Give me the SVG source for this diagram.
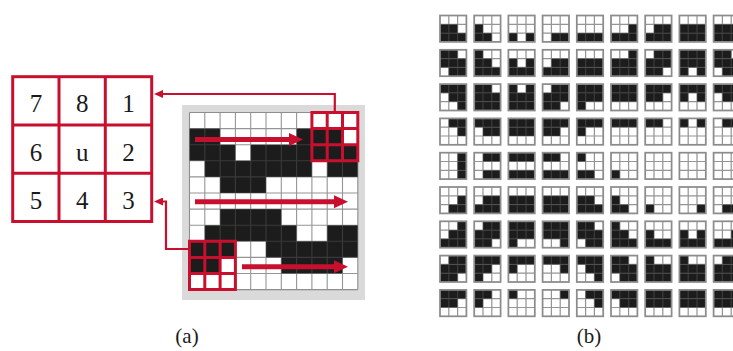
<svg xmlns="http://www.w3.org/2000/svg" width="733" height="351" viewBox="0 0 733 351">
<style>
.red{fill:none;stroke:#c8102e}
.blk{fill:#1c1c1c}
.gl{fill:none;stroke:#4f4f4f;stroke-opacity:0.6;stroke-width:1.1}
.lbl{font-family:"Liberation Serif","Times New Roman",serif;fill:#1a1a1a}
.num{font-size:25px;text-anchor:middle}
.cap{font-size:21px;text-anchor:middle}
</style>
<defs>
<marker id="ah" markerUnits="userSpaceOnUse" markerWidth="9" markerHeight="8" viewBox="0 0 9 8" refX="5" refY="4" orient="auto"><path d="M0 0L9 4L0 8z" fill="#c8102e"/></marker>
<marker id="bh" markerUnits="userSpaceOnUse" markerWidth="14" markerHeight="13" viewBox="0 0 14 13" refX="8" refY="6.5" orient="auto"><path d="M0 0L14 6.5L0 13z" fill="#c8102e"/></marker>
<g id="gr"><path d="M1 0v3M2 0v3M0 1h3M0 2h3" fill="none" stroke="#4f4f4f" stroke-opacity="0.6" stroke-width="0.14"/><rect width="3" height="3" fill="none" stroke="#8c8c8c" stroke-width="0.2"/></g>
<rect id="r001" x="2" width="1" height="1" class="blk"/>
<rect id="r010" x="1" width="1" height="1" class="blk"/>
<rect id="r011" x="1" width="2" height="1" class="blk"/>
<rect id="r100" x="0" width="1" height="1" class="blk"/>
<g id="r101"><rect x="0" width="1" height="1" class="blk"/><rect x="2" width="1" height="1" class="blk"/></g>
<rect id="r110" x="0" width="2" height="1" class="blk"/>
<rect id="r111" x="0" width="3" height="1" class="blk"/>
</defs>
<rect width="733" height="351" fill="#fff"/>

<!-- (a) neighbourhood table -->
<g id="table">
<rect x="12.7" y="76.7" width="139" height="144.8" fill="#fff" stroke="#c8102e" stroke-width="3"/>
<path class="red" stroke-width="3" d="M59 76.7V221.5M105.3 76.7V221.5M12.7 125H151.7M12.7 173.3H151.7"/>
<g class="lbl num">
<text x="36" y="111.5">7</text><text x="82.2" y="111.5">8</text><text x="128.5" y="111.5">1</text>
<text x="36" y="161">6</text><text x="82.2" y="161">u</text><text x="128.5" y="161">2</text>
<text x="36" y="208.5">5</text><text x="82.2" y="208.5">4</text><text x="128.5" y="208.5">3</text>
</g>
</g>

<!-- (a) image grid -->
<g id="image">
<rect x="182" y="105" width="183" height="195" fill="#dadada"/>
<rect x="189.5" y="112.5" width="168.3" height="177.1" fill="#fff"/>
<path class="blk" d="M189.5 128.6h30.6v16.1h-30.6zM296.6 128.6h45.9v16.1h-45.9zM189.5 144.7h45.9v16.1h-45.9zM250.7 144.7h107.1v16.1h-107.1zM204.8 160.8h107.1v16.1h-107.1zM327.2 160.8h30.6v16.1h-30.6zM220.1 176.9h45.9v16.1h-45.9zM220.1 209.1h61.2v16.1h-61.2zM204.8 225.2h91.8v16.1h-91.8zM327.2 225.2h30.6v16.1h-30.6zM189.5 241.3h45.9v16.1h-45.9zM266 241.3h91.8v16.1h-91.8zM189.5 257.4h30.6v16.1h-30.6zM281.3 257.4h61.2v16.1h-61.2z"/>
<path class="gl" d="M189.5 112.5V289.6M204.8 112.5V289.6M220.1 112.5V289.6M235.4 112.5V289.6M250.7 112.5V289.6M266 112.5V289.6M281.3 112.5V289.6M296.6 112.5V289.6M311.9 112.5V289.6M327.2 112.5V289.6M342.5 112.5V289.6M357.8 112.5V289.6M189.5 112.5H357.8M189.5 128.6H357.8M189.5 144.7H357.8M189.5 160.8H357.8M189.5 176.9H357.8M189.5 193H357.8M189.5 209.1H357.8M189.5 225.2H357.8M189.5 241.3H357.8M189.5 257.4H357.8M189.5 273.5H357.8M189.5 289.6H357.8"/>
</g>
<g id="window-top">
<path class="red" stroke-width="3" d="M311.9 112.5h45.9v48.3h-45.9zM327.2 112.5V160.8M342.5 112.5V160.8M311.9 128.6H357.8M311.9 144.7H357.8"/>
</g>
<g id="window-bottom">
<path class="red" stroke-width="3" d="M189.5 241.3h45.9v48.3h-45.9zM204.8 241.3V289.6M220.1 241.3V289.6M189.5 257.4H235.4M189.5 273.5H235.4"/>
</g>

<g id="connectors">
<path class="red" stroke-width="2.2" d="M334.8 111V94H158" marker-end="url(#ah)"/>
<path class="red" stroke-width="2.2" d="M189.5 249H166V201.5H158" marker-end="url(#ah)"/>
<path class="red" stroke-width="5" d="M195 139.5H297" marker-end="url(#bh)"/>
<path class="red" stroke-width="5" d="M195 201.7H342" marker-end="url(#bh)"/>
<path class="red" stroke-width="5" d="M242 266.7H342" marker-end="url(#bh)"/>
</g>

<!-- (b) pattern array -->
<g id="patterns">
<g id="p1">
<g transform="translate(440,15.5) scale(8.8)"><use href="#r110" y="1"/><use href="#r111" y="2"/><use href="#gr"/></g>
<g transform="translate(474.2,15.5) scale(8.8)"><use href="#r100" y="1"/><use href="#r110" y="2"/><use href="#gr"/></g>
<g transform="translate(508.4,15.5) scale(8.8)"><use href="#r101" y="2"/><use href="#gr"/></g>
<g transform="translate(542.6,15.5) scale(8.8)"><use href="#r011" y="2"/><use href="#gr"/></g>
<g transform="translate(576.8,15.5) scale(8.8)"><use href="#r111" y="2"/><use href="#gr"/></g>
<g transform="translate(611,15.5) scale(8.8)"><use href="#r001" y="1"/><use href="#r111" y="2"/><use href="#gr"/></g>
<g transform="translate(645.2,15.5) scale(8.8)"><use href="#r011" y="1"/><use href="#r111" y="2"/><use href="#gr"/></g>
<g transform="translate(679.4,15.5) scale(8.8)"><use href="#r111" y="1"/><use href="#r111" y="2"/><use href="#gr"/></g>
<g transform="translate(713.6,15.5) scale(8.8)"><use href="#r111" y="1"/><use href="#r111" y="2"/><use href="#gr"/></g>
</g>
<g id="p2">
<g transform="translate(440,49.8) scale(8.8)"><use href="#r110"/><use href="#r111" y="1"/><use href="#r011" y="2"/><use href="#gr"/></g>
<g transform="translate(474.2,49.8) scale(8.8)"><use href="#r100"/><use href="#r110" y="1"/><use href="#r111" y="2"/><use href="#gr"/></g>
<g transform="translate(508.4,49.8) scale(8.8)"><use href="#r101" y="1"/><use href="#r111" y="2"/><use href="#gr"/></g>
<g transform="translate(542.6,49.8) scale(8.8)"><use href="#r011" y="1"/><use href="#r111" y="2"/><use href="#gr"/></g>
<g transform="translate(576.8,49.8) scale(8.8)"><use href="#r111" y="1"/><use href="#r111" y="2"/><use href="#gr"/></g>
<g transform="translate(611,49.8) scale(8.8)"><use href="#r001"/><use href="#r111" y="1"/><use href="#r111" y="2"/><use href="#gr"/></g>
<g transform="translate(645.2,49.8) scale(8.8)"><use href="#r011"/><use href="#r111" y="1"/><use href="#r110" y="2"/><use href="#gr"/></g>
<g transform="translate(679.4,49.8) scale(8.8)"><use href="#r111"/><use href="#r111" y="1"/><use href="#r101" y="2"/><use href="#gr"/></g>
<g transform="translate(713.6,49.8) scale(8.8)"><use href="#r110"/><use href="#r111" y="1"/><use href="#r011" y="2"/><use href="#gr"/></g>
</g>
<g id="p3">
<g transform="translate(440,84.1) scale(8.8)"><use href="#r111"/><use href="#r011" y="1"/><use href="#r001" y="2"/><use href="#gr"/></g>
<g transform="translate(474.2,84.1) scale(8.8)"><use href="#r110"/><use href="#r111" y="1"/><use href="#r111" y="2"/><use href="#gr"/></g>
<g transform="translate(508.4,84.1) scale(8.8)"><use href="#r101"/><use href="#r111" y="1"/><use href="#r111" y="2"/><use href="#gr"/></g>
<g transform="translate(542.6,84.1) scale(8.8)"><use href="#r011"/><use href="#r111" y="1"/><use href="#r110" y="2"/><use href="#gr"/></g>
<g transform="translate(576.8,84.1) scale(8.8)"><use href="#r111"/><use href="#r111" y="1"/><use href="#r100" y="2"/><use href="#gr"/></g>
<g transform="translate(611,84.1) scale(8.8)"><use href="#r111"/><use href="#r111" y="1"/><use href="#gr"/></g>
<g transform="translate(645.2,84.1) scale(8.8)"><use href="#r111"/><use href="#r110" y="1"/><use href="#gr"/></g>
<g transform="translate(679.4,84.1) scale(8.8)"><use href="#r111"/><use href="#r101" y="1"/><use href="#gr"/></g>
<g transform="translate(713.6,84.1) scale(8.8)"><use href="#r111"/><use href="#r011" y="1"/><use href="#gr"/></g>
</g>
<g id="p4">
<g transform="translate(440,118.4) scale(8.8)"><use href="#r011"/><use href="#r001" y="1"/><use href="#gr"/></g>
<g transform="translate(474.2,118.4) scale(8.8)"><use href="#r111"/><use href="#r011" y="1"/><use href="#gr"/></g>
<g transform="translate(508.4,118.4) scale(8.8)"><use href="#r111"/><use href="#r111" y="1"/><use href="#gr"/></g>
<g transform="translate(542.6,118.4) scale(8.8)"><use href="#r111"/><use href="#r110" y="1"/><use href="#gr"/></g>
<g transform="translate(576.8,118.4) scale(8.8)"><use href="#r111"/><use href="#r100" y="1"/><use href="#gr"/></g>
<g transform="translate(611,118.4) scale(8.8)"><use href="#r111"/><use href="#gr"/></g>
<g transform="translate(645.2,118.4) scale(8.8)"><use href="#r110"/><use href="#gr"/></g>
<g transform="translate(679.4,118.4) scale(8.8)"><use href="#r101"/><use href="#gr"/></g>
<g transform="translate(713.6,118.4) scale(8.8)"><use href="#r011"/><use href="#gr"/></g>
</g>
<g id="p5">
<g transform="translate(440,152.7) scale(8.8)"><use href="#r001"/><use href="#r001" y="1"/><use href="#r001" y="2"/><use href="#gr"/></g>
<g transform="translate(474.2,152.7) scale(8.8)"><use href="#r011"/><use href="#r011" y="2"/><use href="#gr"/></g>
<g transform="translate(508.4,152.7) scale(8.8)"><use href="#r111"/><use href="#r111" y="2"/><use href="#gr"/></g>
<g transform="translate(542.6,152.7) scale(8.8)"><use href="#r110"/><use href="#r111" y="2"/><use href="#gr"/></g>
<g transform="translate(576.8,152.7) scale(8.8)"><use href="#r100"/><use href="#r110" y="2"/><use href="#gr"/></g>
<g transform="translate(611,152.7) scale(8.8)"><use href="#r100" y="2"/><use href="#gr"/></g>
<g transform="translate(645.2,152.7) scale(8.8)"><use href="#gr"/></g>
<g transform="translate(679.4,152.7) scale(8.8)"><use href="#gr"/></g>
<g transform="translate(713.6,152.7) scale(8.8)"><use href="#gr"/></g>
</g>
<g id="p6">
<g transform="translate(440,187) scale(8.8)"><use href="#r001" y="1"/><use href="#r011" y="2"/><use href="#gr"/></g>
<g transform="translate(474.2,187) scale(8.8)"><use href="#r011" y="1"/><use href="#r111" y="2"/><use href="#gr"/></g>
<g transform="translate(508.4,187) scale(8.8)"><use href="#r111" y="1"/><use href="#r111" y="2"/><use href="#gr"/></g>
<g transform="translate(542.6,187) scale(8.8)"><use href="#r111" y="1"/><use href="#r111" y="2"/><use href="#gr"/></g>
<g transform="translate(576.8,187) scale(8.8)"><use href="#r110" y="1"/><use href="#r111" y="2"/><use href="#gr"/></g>
<g transform="translate(611,187) scale(8.8)"><use href="#r100" y="1"/><use href="#r110" y="2"/><use href="#gr"/></g>
<g transform="translate(645.2,187) scale(8.8)"><use href="#r100" y="2"/><use href="#gr"/></g>
<g transform="translate(679.4,187) scale(8.8)"><use href="#r001" y="2"/><use href="#gr"/></g>
<g transform="translate(713.6,187) scale(8.8)"><use href="#r011" y="2"/><use href="#gr"/></g>
</g>
<g id="p7">
<g transform="translate(440,221.3) scale(8.8)"><use href="#r001"/><use href="#r011" y="1"/><use href="#r111" y="2"/><use href="#gr"/></g>
<g transform="translate(474.2,221.3) scale(8.8)"><use href="#r011"/><use href="#r111" y="1"/><use href="#r110" y="2"/><use href="#gr"/></g>
<g transform="translate(508.4,221.3) scale(8.8)"><use href="#r111"/><use href="#r111" y="1"/><use href="#r100" y="2"/><use href="#gr"/></g>
<g transform="translate(542.6,221.3) scale(8.8)"><use href="#r111"/><use href="#r111" y="1"/><use href="#r001" y="2"/><use href="#gr"/></g>
<g transform="translate(576.8,221.3) scale(8.8)"><use href="#r110"/><use href="#r111" y="1"/><use href="#r011" y="2"/><use href="#gr"/></g>
<g transform="translate(611,221.3) scale(8.8)"><use href="#r100"/><use href="#r110" y="1"/><use href="#r111" y="2"/><use href="#gr"/></g>
<g transform="translate(645.2,221.3) scale(8.8)"><use href="#r100" y="1"/><use href="#r111" y="2"/><use href="#gr"/></g>
<g transform="translate(679.4,221.3) scale(8.8)"><use href="#r101" y="1"/><use href="#r111" y="2"/><use href="#gr"/></g>
<g transform="translate(713.6,221.3) scale(8.8)"><use href="#r001" y="1"/><use href="#r111" y="2"/><use href="#gr"/></g>
</g>
<g id="p8">
<g transform="translate(440,255.6) scale(8.8)"><use href="#r011"/><use href="#r111" y="1"/><use href="#r110" y="2"/><use href="#gr"/></g>
<g transform="translate(474.2,255.6) scale(8.8)"><use href="#r111"/><use href="#r110" y="1"/><use href="#r100" y="2"/><use href="#gr"/></g>
<g transform="translate(508.4,255.6) scale(8.8)"><use href="#r111"/><use href="#r100" y="1"/><use href="#gr"/></g>
<g transform="translate(542.6,255.6) scale(8.8)"><use href="#r111"/><use href="#r001" y="1"/><use href="#gr"/></g>
<g transform="translate(576.8,255.6) scale(8.8)"><use href="#r111"/><use href="#r011" y="1"/><use href="#r001" y="2"/><use href="#gr"/></g>
<g transform="translate(611,255.6) scale(8.8)"><use href="#r110"/><use href="#r111" y="1"/><use href="#r011" y="2"/><use href="#gr"/></g>
<g transform="translate(645.2,255.6) scale(8.8)"><use href="#r100"/><use href="#r111" y="1"/><use href="#r111" y="2"/><use href="#gr"/></g>
<g transform="translate(679.4,255.6) scale(8.8)"><use href="#r100"/><use href="#r111" y="1"/><use href="#r111" y="2"/><use href="#gr"/></g>
<g transform="translate(713.6,255.6) scale(8.8)"><use href="#r011"/><use href="#r111" y="1"/><use href="#r111" y="2"/><use href="#gr"/></g>
</g>
<g id="p9">
<g transform="translate(440,289.9) scale(8.8)"><use href="#r111"/><use href="#r110" y="1"/><use href="#gr"/></g>
<g transform="translate(474.2,289.9) scale(8.8)"><use href="#r110"/><use href="#r100" y="1"/><use href="#gr"/></g>
<g transform="translate(508.4,289.9) scale(8.8)"><use href="#r100"/><use href="#gr"/></g>
<g transform="translate(542.6,289.9) scale(8.8)"><use href="#r001"/><use href="#gr"/></g>
<g transform="translate(576.8,289.9) scale(8.8)"><use href="#r011"/><use href="#r001" y="1"/><use href="#gr"/></g>
<g transform="translate(611,289.9) scale(8.8)"><use href="#r111"/><use href="#r011" y="1"/><use href="#gr"/></g>
<g transform="translate(645.2,289.9) scale(8.8)"><use href="#r111"/><use href="#r111" y="1"/><use href="#gr"/></g>
<g transform="translate(679.4,289.9) scale(8.8)"><use href="#r111"/><use href="#r111" y="1"/><use href="#gr"/></g>
<g transform="translate(713.6,289.9) scale(8.8)"><use href="#r111"/><use href="#r111" y="1"/><use href="#gr"/></g>
</g>
</g>

<g id="captions" class="lbl cap">
<text x="187" y="343">(a)</text>
<text x="589" y="343">(b)</text>
</g>
</svg>
